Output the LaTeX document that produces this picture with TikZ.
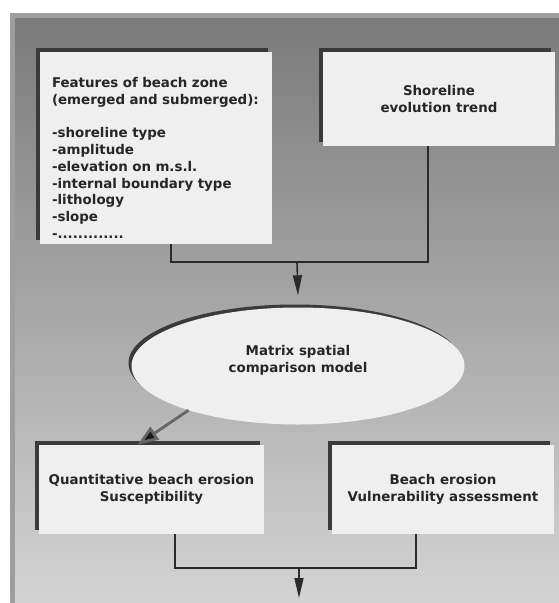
\documentclass[tikz,border=0pt]{standalone}
\usepackage{fontspec}
\setmainfont{DejaVu Sans}
\usetikzlibrary{positioning, arrows.meta, shapes.geometric, shadows}

\definecolor{boxfill}{HTML}{EFEFEF}
\definecolor{edgedark}{HTML}{3A3A3A}
\definecolor{linedark}{HTML}{2A2A2A}

\begin{document}
\begin{tikzpicture}[x=1pt, y=-1pt, >=latex, font=\bfseries\fontsize{13.4}{16.7}\selectfont,
	box/.style={fill=boxfill, inner sep=0pt, align=center, text=black!85,
		drop shadow={shadow xshift=-4pt, shadow yshift=4pt, fill=edgedark, opacity=1}},
	oval/.style={ellipse, fill=boxfill, inner sep=0pt, align=center, text=black!85,
		drop shadow={shadow xshift=-3pt, shadow yshift=3pt, fill=edgedark, opacity=1}},
	link/.style={draw=linedark, line width=1.6pt},
	arrow/.style={link, -{Triangle[width=9pt, length=20pt]}},
	diag/.style={draw=black!60, line width=2.8pt, -{Triangle[width=15pt, length=21pt, fill=black!90]}}]

	% background panel
	\useasboundingbox (0,0) rectangle (559,603);
	\fill[white] (0,0) rectangle (559,603);
	\fill[black!38] (10,13) rectangle (559,603);
	\shade[top color=black!52, bottom color=black!17] (15,18) rectangle (559,603);

	% upper row
	\node[box, minimum width=232pt, minimum height=192pt, text width=208pt, align=left] (feat) at (156,148)
		{\rule{0pt}{30pt}Features of beach zone\\(emerged and submerged):\\[16.7pt]-shoreline type\\-amplitude\\-elevation on m.s.l.\\-internal boundary type\\-lithology\\-slope\\-.............};
	\node[box, minimum width=232pt, minimum height=94pt] (trend) at (439,99) {Shoreline\\evolution trend};

	% model
	\node[oval, minimum width=333pt, minimum height=117pt] (model) at (298,366) {Matrix spatial\\comparison model\rule[-14pt]{0pt}{1pt}};

	% lower row
	\node[box, minimum width=225pt, minimum height=89pt] (susc) at (151.5,489.5) {Quantitative beach erosion\\Susceptibility};
	\node[box, minimum width=222pt, minimum height=89pt] (vuln) at (443,489.5) {Beach erosion\\Vulnerability assessment};

	\coordinate (top_join) at (297,262);
	\coordinate (bot_join) at (299,568);
	\coordinate (bot_end) at (299,598);

	\draw[link] ([xshift=15pt]feat.south) |- (top_join) -| ([xshift=-11pt]trend.south);
	\draw[arrow] (top_join) -- ([yshift=12pt]model.north);

	\draw[diag] (model.202) -- ([xshift=-14pt]susc.north);

	\draw[link] ([xshift=23.5pt]susc.south) |- (bot_join) -| ([xshift=-27pt]vuln.south);
	\draw[arrow] (bot_join) -- (bot_end);
\end{tikzpicture}
\end{document}
